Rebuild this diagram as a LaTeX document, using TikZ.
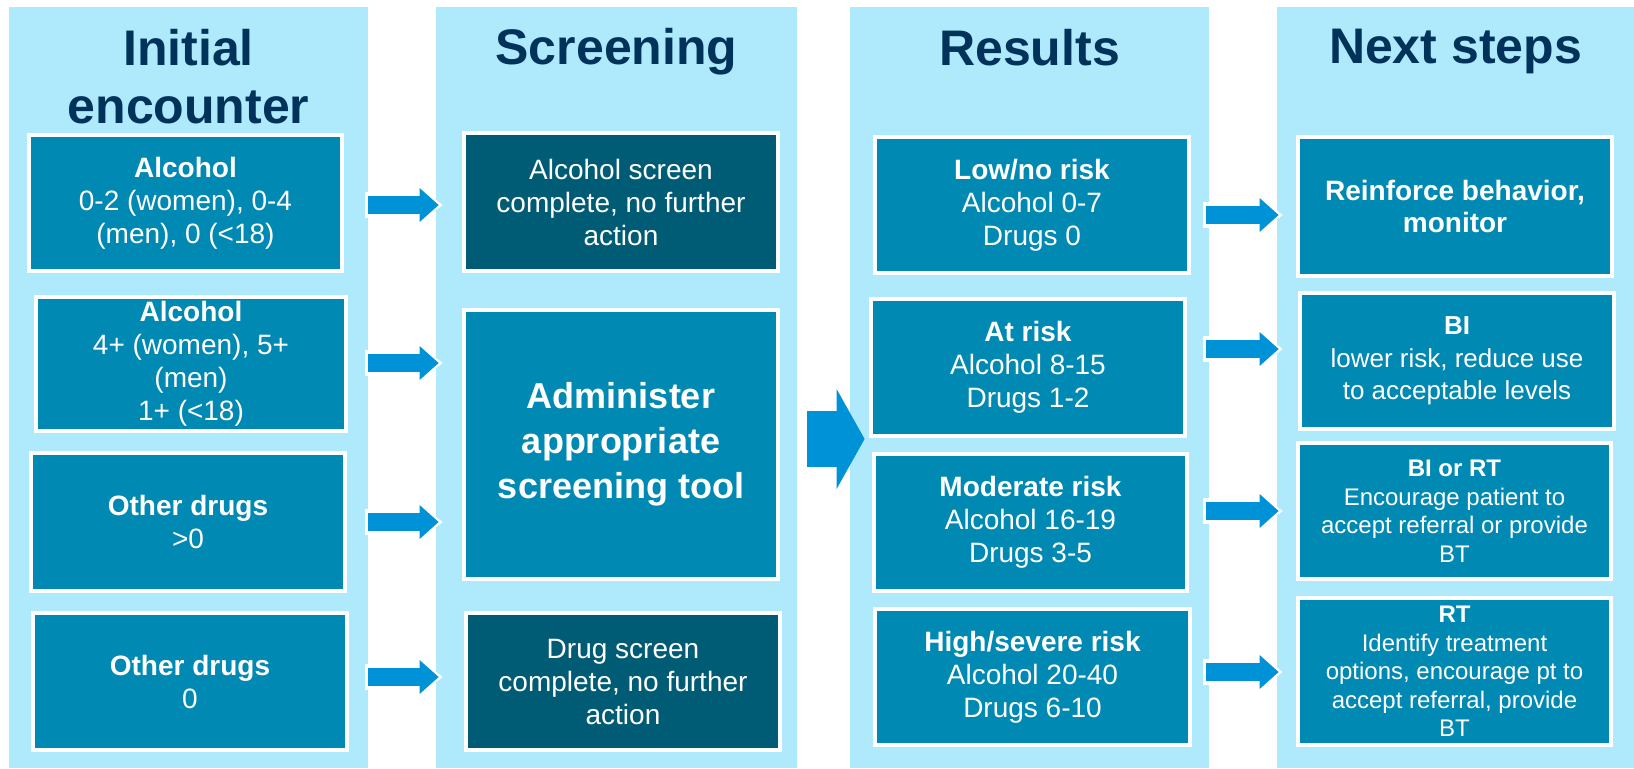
\documentclass[tikz,border=0pt]{standalone}
\usepackage{fontspec}
\setmainfont{Liberation Sans}
\usetikzlibrary{arrows.meta,calc}
\definecolor{panelblue}{RGB}{174,233,252}
\definecolor{boxblue}{RGB}{0,137,178}
\definecolor{doneblue}{RGB}{0,92,117}
\definecolor{arrowblue}{RGB}{0,146,214}
\definecolor{titleblue}{RGB}{0,50,90}
\tikzset{
  panel/.style={fill=panelblue, inner sep=0pt, minimum height=380.5pt},
  title/.style={anchor=north, inner sep=0pt, align=center, text=titleblue,
    font=\fontsize{25}{29}\selectfont\bfseries},
  box/.style={fill=boxblue, draw=white, line width=2pt, inner sep=0pt,
    align=center, text=white, font=\fontsize{14}{16.5}\selectfont},
  donebox/.style={box, fill=doneblue},
  smallbox/.style={box, font=\fontsize{12}{14.25}\selectfont},
  flow/.style={draw=arrowblue, line width=9pt,
    -{Triangle[width=17pt,length=9.5pt,line width=0pt]},
    preaction={draw=white, line width=13pt,
      -{Triangle[width=21pt,length=13pt,line width=0pt]},
      shorten <=-1.5pt, shorten >=-2pt}},
  bigflow/.style={draw=arrowblue, line width=28pt,
    -{Triangle[width=50pt,length=14pt,line width=0pt]}}
}
\begin{document}
\begin{tikzpicture}[x=0.5pt,y=-0.5pt]
  \useasboundingbox (0,0) rectangle (1634,768);
  % columns
  \node[panel, minimum width=179.5pt] (p1) at (188.5,387.5) {};
  \node[panel, minimum width=180.5pt] (p2) at (616.5,387.5) {};
  \node[panel, minimum width=179.5pt] (p3) at (1029.5,387.5) {};
  \node[panel, minimum width=178.5pt] (p4) at (1455.5,387.5) {};
  \node[title] (t1) at (188.5,29) {Initial\\encounter};
  \node[title] (t2) at (616.5,28) {Screening};
  \node[title] (t3) at (1029.5,29) {Results};
  \node[title] (t4) at (1455.5,29) {Next steps};
  % initial encounter
  \node[box, minimum width=156.5pt, minimum height=68pt] (a1) at (185.5,203)
    {\textbf{Alcohol}\\0-2 (women), 0-4\\(men), 0 (<18)};
  \node[box, minimum width=155pt, minimum height=67pt] (a2) at (191,364)
    {\textbf{Alcohol}\\4+ (women), 5+\\(men)\\1+ (<18)};
  \node[box, minimum width=157pt, minimum height=69pt] (a3) at (188,522)
    {\textbf{Other drugs}\\>0};
  \node[box, minimum width=157pt, minimum height=68.5pt] (a4) at (190,681.5)
    {\textbf{Other drugs}\\0};
  % screening
  \node[donebox, minimum width=157pt, minimum height=69pt] (s1) at (621,202)
    {Alcohol screen\\complete, no further\\action};
  \node[box, minimum width=157pt, minimum height=134.5pt,
    font=\fontsize{18}{22.5}\selectfont\bfseries] (s2) at (621,444.5)
    {Administer\\appropriate\\screening tool};
  \node[donebox, minimum width=157pt, minimum height=68.5pt] (s3) at (623,681.5)
    {Drug screen\\complete, no further\\action};
  % results
  \node[box, minimum width=157pt, minimum height=68pt] (r1) at (1032,205)
    {\textbf{Low/no risk}\\Alcohol 0-7\\Drugs 0};
  \node[box, minimum width=157pt, minimum height=68.5pt] (r2) at (1028,367.5)
    {\textbf{At risk}\\Alcohol 8-15\\Drugs 1-2};
  \node[box, minimum width=156.5pt, minimum height=68.5pt] (r3) at (1030.5,522.5)
    {\textbf{Moderate risk}\\Alcohol 16-19\\Drugs 3-5};
  \node[box, minimum width=157.5pt, minimum height=68pt] (r4) at (1032.5,677)
    {\textbf{High/severe risk}\\Alcohol 20-40\\Drugs 6-10};
  % next steps
  \node[box, minimum width=157pt, minimum height=69.5pt,
    font=\fontsize{14}{16}\selectfont\bfseries] (n1) at (1455,206.5)
    {Reinforce behavior,\\monitor};
  \node[box, minimum width=157pt, minimum height=68pt,
    font=\fontsize{13}{16.25}\selectfont] (n2) at (1457,361)
    {\textbf{BI}\\lower risk, reduce use\\to acceptable levels};
  \node[smallbox, minimum width=156.5pt, minimum height=68pt] (n3) at (1454.5,511)
    {\textbf{BI or RT}\\Encourage patient to\\accept referral or provide\\BT};
  \node[smallbox, minimum width=156.5pt, minimum height=73.5pt] (n4) at (1454.5,671.5)
    {\textbf{RT}\\Identify treatment\\options, encourage pt to\\accept referral, provide\\BT};
  % arrows
  \foreach \src/\dy in {a1/2,a2/-1,a3/0,a4/-4.5}
    \draw[flow] ($(p1.east |- \src.east)+(0,\dy)$) -- ($(p2.west |- \src.east)+(3,\dy)$);
  \draw[bigflow] ($(p2.east |- s2.east)+(10,-5.5)$) -- ($(p3.west |- s2.east)+(15,-5.5)$);
  \foreach \dst/\dy in {n1/8.5,n2/-12,n3/0,n4/0.5}
    \draw[flow] ($(p3.east |- \dst.west)+(-3,\dy)$) -- ($(p4.west |- \dst.west)+(2,\dy)$);
\end{tikzpicture}
\end{document}
